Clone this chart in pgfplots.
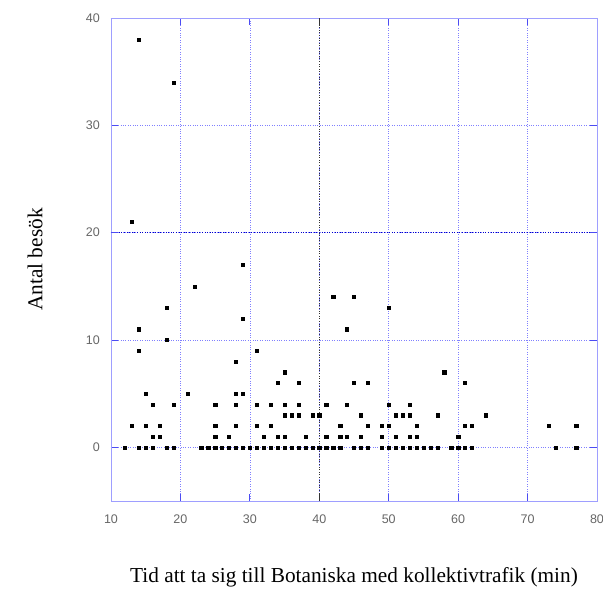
\documentclass[border=0pt]{standalone}
\usepackage{fontspec}
\setmainfont{Liberation Serif}
\newfontfamily\tickfont{Liberation Sans}
\usepackage{pgfplots}
\pgfplotsset{compat=1.18}
\definecolor{gridblue}{rgb}{0.3,0.3,0.95}
\definecolor{lightgrid}{rgb}{0.5,0.5,1.0}
\definecolor{frameblue}{rgb}{0.62,0.62,1.0}
\begin{document}
\begin{tikzpicture}
\path[use as bounding box] (-111pt,-91pt) rectangle (492pt,501pt);
\begin{axis}[
  at={(0,0)}, anchor=south west,
  scale only axis, width=486pt, height=483pt,
  xmin=10, xmax=80, ymin=-5, ymax=40,
  xtick={10,20,...,80}, ytick={0,10,20,30,40},
  tick align=inside, major tick length=7pt,
  tick style={gridblue, line width=0.8pt},
  axis line style={frameblue, line width=0.8pt},
  grid=major,
  major grid style={lightgrid, dotted, line width=0.6pt},
  extra x ticks={40}, extra x tick labels={},
  extra x tick style={grid=major, major grid style={black!80, dotted, line width=0.6pt}, tick style={black!80}},
  extra y ticks={20}, extra y tick labels={},
  extra y tick style={grid=major, major grid style={blue!80!black, dotted, line width=0.6pt}},
  /pgf/number format/assume math mode=true,
  ticklabel style={font=\tickfont\fontsize{12.5}{14}\selectfont, text=black!60},
  xticklabel style={anchor=center, yshift=-18pt, inner sep=0pt},
  yticklabel style={anchor=east, xshift=-11pt, inner sep=0pt},
  xlabel={Tid att ta sig till Botaniska med kollektivtrafik (min)},
  ylabel={Antal besök},
  label style={font=\fontsize{21.3}{24}\selectfont},
  xlabel style={at={(axis description cs:0.5,-0.157)}, anchor=center},
  ylabel style={at={(axis description cs:-0.156,0.5)}, anchor=center},
  clip=false,
]
\addplot[only marks, mark=square*, mark size=1.6pt, color=black] coordinates {
(12,0)
(13,21) (13,2)
(14,38) (14,11) (14,9) (14,0)
(15,5) (15,2) (15,0)
(16,4) (16,1) (16,0)
(17,2) (17,1)
(18,13) (18,10) (18,0)
(19,34) (19,4) (19,0)
(21,5)
(22,15)
(23,0)
(24,0)
(25,4) (25,2) (25,1) (25,0)
(26,0)
(27,1) (27,0)
(28,8) (28,5) (28,4) (28,2) (28,0)
(29,17) (29,12) (29,5) (29,0)
(30,0)
(31,9) (31,4) (31,2) (31,0)
(32,1) (32,0)
(33,4) (33,2) (33,0)
(34,6) (34,1) (34,0)
(35,7) (35,4) (35,3) (35,1) (35,0)
(36,3) (36,0)
(37,6) (37,4) (37,3) (37,0)
(38,1) (38,0)
(39,3) (39,0)
(40,3) (40,0)
(41,4) (41,1) (41,0)
(42,14) (42,0)
(43,2) (43,1) (43,0)
(44,11) (44,4) (44,1)
(45,14) (45,6) (45,0)
(46,3) (46,1) (46,0)
(47,6) (47,2) (47,0)
(49,2) (49,1) (49,0)
(50,13) (50,4) (50,2) (50,0)
(51,3) (51,1) (51,0)
(52,3) (52,0)
(53,4) (53,3) (53,1) (53,0)
(54,2) (54,1) (54,0)
(55,0)
(56,0)
(57,3) (57,0)
(58,7)
(59,0)
(60,1) (60,0)
(61,6) (61,2) (61,0)
(62,2) (62,0)
(64,3)
(73,2)
(74,0)
(77,2) (77,0)
};
\end{axis}
\end{tikzpicture}
\end{document}
